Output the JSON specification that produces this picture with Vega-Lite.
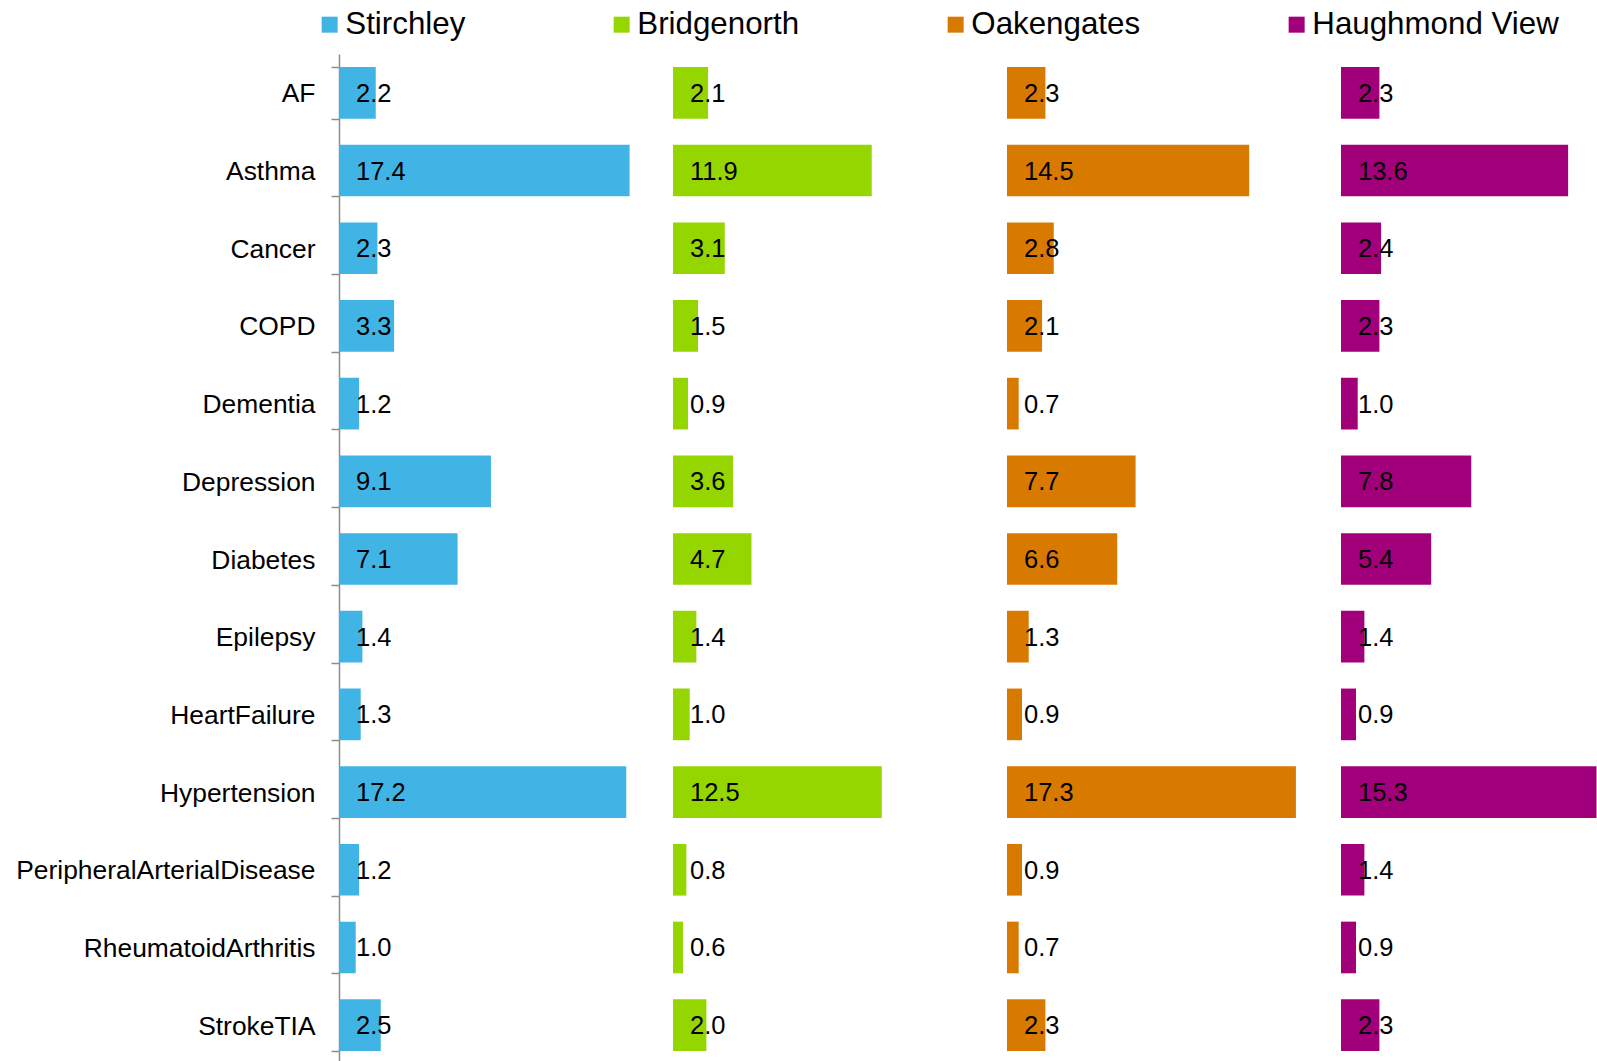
{
  "$schema": "https://vega.github.io/schema/vega-lite/v6.json",
  "background": "white",
  "padding": {"left": 15, "top": 9, "right": 0, "bottom": 0},
  "spacing": 0,
  "config": {"view": {"stroke": null}, "font": "Liberation Sans", "concat": {"spacing": 0}},
  "resolve": {"scale": {"x": "independent", "y": "shared", "color": "shared"}, "legend": {"color": "shared"}},
  "data": {"values": [
    {"area": "Stirchley", "condition": "AF", "value": 2.2},
    {"area": "Stirchley", "condition": "Asthma", "value": 17.4},
    {"area": "Stirchley", "condition": "Cancer", "value": 2.3},
    {"area": "Stirchley", "condition": "COPD", "value": 3.3},
    {"area": "Stirchley", "condition": "Dementia", "value": 1.2},
    {"area": "Stirchley", "condition": "Depression", "value": 9.1},
    {"area": "Stirchley", "condition": "Diabetes", "value": 7.1},
    {"area": "Stirchley", "condition": "Epilepsy", "value": 1.4},
    {"area": "Stirchley", "condition": "HeartFailure", "value": 1.3},
    {"area": "Stirchley", "condition": "Hypertension", "value": 17.2},
    {"area": "Stirchley", "condition": "PeripheralArterialDisease", "value": 1.2},
    {"area": "Stirchley", "condition": "RheumatoidArthritis", "value": 1.0},
    {"area": "Stirchley", "condition": "StrokeTIA", "value": 2.5},
    {"area": "Bridgenorth", "condition": "AF", "value": 2.1},
    {"area": "Bridgenorth", "condition": "Asthma", "value": 11.9},
    {"area": "Bridgenorth", "condition": "Cancer", "value": 3.1},
    {"area": "Bridgenorth", "condition": "COPD", "value": 1.5},
    {"area": "Bridgenorth", "condition": "Dementia", "value": 0.9},
    {"area": "Bridgenorth", "condition": "Depression", "value": 3.6},
    {"area": "Bridgenorth", "condition": "Diabetes", "value": 4.7},
    {"area": "Bridgenorth", "condition": "Epilepsy", "value": 1.4},
    {"area": "Bridgenorth", "condition": "HeartFailure", "value": 1.0},
    {"area": "Bridgenorth", "condition": "Hypertension", "value": 12.5},
    {"area": "Bridgenorth", "condition": "PeripheralArterialDisease", "value": 0.8},
    {"area": "Bridgenorth", "condition": "RheumatoidArthritis", "value": 0.6},
    {"area": "Bridgenorth", "condition": "StrokeTIA", "value": 2.0},
    {"area": "Oakengates", "condition": "AF", "value": 2.3},
    {"area": "Oakengates", "condition": "Asthma", "value": 14.5},
    {"area": "Oakengates", "condition": "Cancer", "value": 2.8},
    {"area": "Oakengates", "condition": "COPD", "value": 2.1},
    {"area": "Oakengates", "condition": "Dementia", "value": 0.7},
    {"area": "Oakengates", "condition": "Depression", "value": 7.7},
    {"area": "Oakengates", "condition": "Diabetes", "value": 6.6},
    {"area": "Oakengates", "condition": "Epilepsy", "value": 1.3},
    {"area": "Oakengates", "condition": "HeartFailure", "value": 0.9},
    {"area": "Oakengates", "condition": "Hypertension", "value": 17.3},
    {"area": "Oakengates", "condition": "PeripheralArterialDisease", "value": 0.9},
    {"area": "Oakengates", "condition": "RheumatoidArthritis", "value": 0.7},
    {"area": "Oakengates", "condition": "StrokeTIA", "value": 2.3},
    {"area": "Haughmond View", "condition": "AF", "value": 2.3},
    {"area": "Haughmond View", "condition": "Asthma", "value": 13.6},
    {"area": "Haughmond View", "condition": "Cancer", "value": 2.4},
    {"area": "Haughmond View", "condition": "COPD", "value": 2.3},
    {"area": "Haughmond View", "condition": "Dementia", "value": 1.0},
    {"area": "Haughmond View", "condition": "Depression", "value": 7.8},
    {"area": "Haughmond View", "condition": "Diabetes", "value": 5.4},
    {"area": "Haughmond View", "condition": "Epilepsy", "value": 1.4},
    {"area": "Haughmond View", "condition": "HeartFailure", "value": 0.9},
    {"area": "Haughmond View", "condition": "Hypertension", "value": 15.3},
    {"area": "Haughmond View", "condition": "PeripheralArterialDisease", "value": 1.4},
    {"area": "Haughmond View", "condition": "RheumatoidArthritis", "value": 0.9},
    {"area": "Haughmond View", "condition": "StrokeTIA", "value": 2.3}
  ]},
  "hconcat": [
    {
      "width": 334, "height": 1010,
      "transform": [{"filter": "datum.area === 'Stirchley'"}],
      "encoding": {
        "y": {"field": "condition", "type": "nominal",
          "sort": ["AF","Asthma","Cancer","COPD","Dementia","Depression","Diabetes","Epilepsy","HeartFailure","Hypertension","PeripheralArterialDisease","RheumatoidArthritis","StrokeTIA"],
          "scale": {"paddingInner": 0.335, "paddingOuter": 0.1675},
          "axis": {"title": null, "labelFontSize": 26.4, "labelColor": "#000000", "labelPadding": 16, "labelLimit": 0, "labelOffset": 1, "tickSize": 8, "tickBand": "extent", "tickColor": "#8c8c8c", "tickWidth": 1.5, "domainColor": "#8c8c8c", "domainWidth": 1.5, "grid": false, "labelFont": "Liberation Sans"}}
      },
      "layer": [
        {"mark": {"type": "bar"},
         "encoding": {
           "x": {"field": "value", "type": "quantitative", "scale": {"domain": [0, 20], "nice": false, "zero": true}, "axis": null},
           "color": {"field": "area", "type": "nominal",
             "scale": {"domain": ["Stirchley","Bridgenorth","Oakengates","Haughmond View"], "range": ["#41b4e6","#96d600","#d97a00","#a2007a"]},
             "legend": {"title": null, "orient": "none", "legendX": -25, "legendY": -45, "direction": "horizontal", "symbolType": "square", "symbolSize": 256, "symbolStrokeWidth": 0, "labelFontSize": 31.3, "labelColor": "#000000", "labelOffset": 0, "columnPadding": 140, "padding": 0, "labelFont": "Liberation Sans", "labelLimit": 0}}
         }},
        {"mark": {"type": "text", "align": "left", "baseline": "middle", "dx": 17, "dy": 1, "fontSize": 25.5, "color": "#000000", "font": "Liberation Sans"},
         "encoding": {
           "x": {"datum": 0, "type": "quantitative"},
           "text": {"field": "value", "type": "quantitative", "format": ".1f"}
         }}
      ]
    },
    {
      "width": 334, "height": 1010,
      "transform": [{"filter": "datum.area === 'Bridgenorth'"}],
      "encoding": {
        "y": {"field": "condition", "type": "nominal",
          "sort": ["AF","Asthma","Cancer","COPD","Dementia","Depression","Diabetes","Epilepsy","HeartFailure","Hypertension","PeripheralArterialDisease","RheumatoidArthritis","StrokeTIA"],
          "scale": {"paddingInner": 0.335, "paddingOuter": 0.1675},
          "axis": null}
      },
      "layer": [
        {"mark": {"type": "bar"},
         "encoding": {
           "x": {"field": "value", "type": "quantitative", "scale": {"domain": [0, 20], "nice": false, "zero": true}, "axis": null},
           "color": {"field": "area", "type": "nominal",
             "scale": {"domain": ["Stirchley","Bridgenorth","Oakengates","Haughmond View"], "range": ["#41b4e6","#96d600","#d97a00","#a2007a"]},
             "legend": {"title": null, "orient": "none", "legendX": -25, "legendY": -45, "direction": "horizontal", "symbolType": "square", "symbolSize": 256, "symbolStrokeWidth": 0, "labelFontSize": 31.3, "labelColor": "#000000", "labelOffset": 0, "columnPadding": 140, "padding": 0, "labelFont": "Liberation Sans", "labelLimit": 0}}
         }},
        {"mark": {"type": "text", "align": "left", "baseline": "middle", "dx": 17, "dy": 1, "fontSize": 25.5, "color": "#000000", "font": "Liberation Sans"},
         "encoding": {
           "x": {"datum": 0, "type": "quantitative"},
           "text": {"field": "value", "type": "quantitative", "format": ".1f"}
         }}
      ]
    },
    {
      "width": 334, "height": 1010,
      "transform": [{"filter": "datum.area === 'Oakengates'"}],
      "encoding": {
        "y": {"field": "condition", "type": "nominal",
          "sort": ["AF","Asthma","Cancer","COPD","Dementia","Depression","Diabetes","Epilepsy","HeartFailure","Hypertension","PeripheralArterialDisease","RheumatoidArthritis","StrokeTIA"],
          "scale": {"paddingInner": 0.335, "paddingOuter": 0.1675},
          "axis": null}
      },
      "layer": [
        {"mark": {"type": "bar"},
         "encoding": {
           "x": {"field": "value", "type": "quantitative", "scale": {"domain": [0, 20], "nice": false, "zero": true}, "axis": null},
           "color": {"field": "area", "type": "nominal",
             "scale": {"domain": ["Stirchley","Bridgenorth","Oakengates","Haughmond View"], "range": ["#41b4e6","#96d600","#d97a00","#a2007a"]},
             "legend": {"title": null, "orient": "none", "legendX": -25, "legendY": -45, "direction": "horizontal", "symbolType": "square", "symbolSize": 256, "symbolStrokeWidth": 0, "labelFontSize": 31.3, "labelColor": "#000000", "labelOffset": 0, "columnPadding": 140, "padding": 0, "labelFont": "Liberation Sans", "labelLimit": 0}}
         }},
        {"mark": {"type": "text", "align": "left", "baseline": "middle", "dx": 17, "dy": 1, "fontSize": 25.5, "color": "#000000", "font": "Liberation Sans"},
         "encoding": {
           "x": {"datum": 0, "type": "quantitative"},
           "text": {"field": "value", "type": "quantitative", "format": ".1f"}
         }}
      ]
    },
    {
      "width": 255, "height": 1010,
      "transform": [{"filter": "datum.area === 'Haughmond View'"}],
      "encoding": {
        "y": {"field": "condition", "type": "nominal",
          "sort": ["AF","Asthma","Cancer","COPD","Dementia","Depression","Diabetes","Epilepsy","HeartFailure","Hypertension","PeripheralArterialDisease","RheumatoidArthritis","StrokeTIA"],
          "scale": {"paddingInner": 0.335, "paddingOuter": 0.1675},
          "axis": null}
      },
      "layer": [
        {"mark": {"type": "bar"},
         "encoding": {
           "x": {"field": "value", "type": "quantitative", "scale": {"domain": [0, 15.27], "nice": false, "zero": true}, "axis": null},
           "color": {"field": "area", "type": "nominal",
             "scale": {"domain": ["Stirchley","Bridgenorth","Oakengates","Haughmond View"], "range": ["#41b4e6","#96d600","#d97a00","#a2007a"]},
             "legend": {"title": null, "orient": "none", "legendX": -25, "legendY": -45, "direction": "horizontal", "symbolType": "square", "symbolSize": 256, "symbolStrokeWidth": 0, "labelFontSize": 31.3, "labelColor": "#000000", "labelOffset": 0, "columnPadding": 140, "padding": 0, "labelFont": "Liberation Sans", "labelLimit": 0}}
         }},
        {"mark": {"type": "text", "align": "left", "baseline": "middle", "dx": 17, "dy": 1, "fontSize": 25.5, "color": "#000000", "font": "Liberation Sans"},
         "encoding": {
           "x": {"datum": 0, "type": "quantitative"},
           "text": {"field": "value", "type": "quantitative", "format": ".1f"}
         }}
      ]
    }
  ]
}
